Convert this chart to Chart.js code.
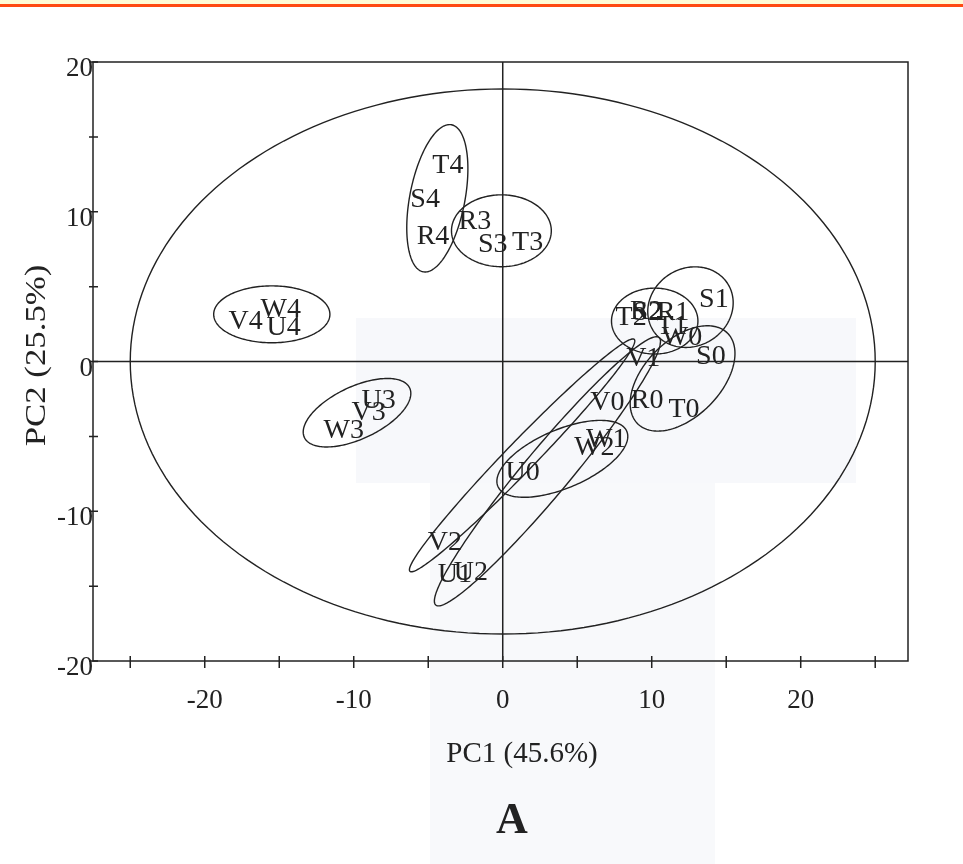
<!DOCTYPE html>
<html lang="en">
<head>
<meta charset="UTF-8">
<title>PCA score plot</title>
<script src="https://cdn.jsdelivr.net/npm/chart.js"></script>
<style>
  html, body { margin: 0; padding: 0; background: #fff; }
  body { width: 963px; height: 864px; overflow: hidden; position: relative; }
  #wrap { position: absolute; left: 0; top: 0; width: 963px; height: 864px; }
  .topband { position: absolute; left: 0; top: 0; width: 963px; height: 4px;
             background: #fffbd6; border-bottom: 3px solid #ff4a12; }
  /* faint scanner tint */
  .tint1 { position: absolute; left: 356px; top: 318px; width: 500px; height: 165px; background: #f7f8fb; }
  .tint2 { position: absolute; left: 430px; top: 483px; width: 285px; height: 381px; background: #f8f9fb; }
</style>
</head>
<body>
<div class="tint1"></div>
<div class="tint2"></div>
<div id="wrap"><canvas id="chart" width="963" height="864"></canvas></div>
<div class="topband"></div>

<script>
// scores
const sampleNames = ['R0','S0','T0','R1','S1','T1','R2','S2','T2','R3','S3','T3','R4','S4','T4',
                     'U0','V0','W0','U1','V1','W1','U2','V2','W2','U3','V3','W3','U4','V4','W4'];
const pc1Scores = [9.69, 13.97, 12.17, 11.43, 14.17, 11.36, 9.63, 9.7, 8.62, -1.87, -0.67, 1.67, -4.68, -5.21, -3.68,
                   1.34, 7.02, 12.03, -3.21, 9.43, 6.95, -2.14, -3.88, 6.15, -8.33, -9.0, -10.67, -14.7, -17.25, -14.9];
const pc2Scores = [-2.6, 0.33, -3.2, 3.27, 4.13, 2.33, 3.33, 3.25, 2.93, 9.33, 7.8, 7.93, 8.33, 10.8, 13.1,
                   -7.4, -2.73, 1.6, -14.2, 0.2, -5.2, -14.07, -12.07, -5.73, -2.64, -3.42, -4.64, 2.25, 2.69, 3.47];

// group ellipses: centre, semi axes (score units), rotation (deg)
const ellipseCx    = [0, -4.39, -0.09, -15.5, -9.78, 12.6, 10.2, 12.07, 4.0, 1.3, 3.0];
const ellipseCy    = [0, 10.9, 8.73, 3.15, -3.42, 3.63, 2.7, -1.13, -6.5, -6.27, -7.33];
const ellipseA     = [25, 5.0, 3.35, 3.9, 3.9, 2.95, 2.9, 4.27, 4.7, 10.8, 11.66];
const ellipseB     = [18.2, 1.85, 2.4, 1.9, 1.75, 2.6, 2.2, 2.55, 1.95, 1.0, 1.55];
const ellipseAngle = [0, 79, 0, 0, 25, 30, 0, 45, 23, 45.8, 50];

const xTickLabels = [-20, -10, 0, 10, 20];
const yTickLabels = [20, 10, 0, -10, -20];
const xTickMarks = [-25, -20, -15, -10, -5, 0, 5, 10, 15, 20, 25];
const yTickMarks = [-20, -15, -10, -5, 0, 5, 10, 15, 20];

const xTitle = 'PC1 (45.6%)';
const yTitle = 'PC2 (25.5%)';
const panelLetter = 'A';

const serif = '"Liberation Serif", "Times New Roman", serif';
const ink = '#222222';

const decor = {
  id: 'decor',
  afterDatasetsDraw(chart) {
    const { ctx, chartArea: area, scales: { x, y } } = chart;
    ctx.save();
    ctx.strokeStyle = ink;
    ctx.lineWidth = 1.5;

    // frame
    ctx.strokeRect(area.left, area.top, area.right - area.left, area.bottom - area.top);

    // zero lines
    const x0 = x.getPixelForValue(0), y0 = y.getPixelForValue(0);
    ctx.beginPath();
    ctx.moveTo(x0, area.top); ctx.lineTo(x0, area.bottom);
    ctx.moveTo(area.left, y0); ctx.lineTo(area.right, y0);
    ctx.stroke();

    // tick marks crossing the axes
    ctx.beginPath();
    xTickMarks.forEach(v => {
      const px = x.getPixelForValue(v);
      ctx.moveTo(px, area.bottom - 5); ctx.lineTo(px, area.bottom + 7);
    });
    yTickMarks.forEach(v => {
      const py = y.getPixelForValue(v);
      ctx.moveTo(area.left - 4, py); ctx.lineTo(area.left + 5, py);
    });
    ctx.stroke();

    // ellipses
    ctx.lineWidth = 1.4;
    for (let i = 0; i < ellipseCx.length; i++) {
      const th = ellipseAngle[i] * Math.PI / 180;
      const c = Math.cos(th), s = Math.sin(th);
      ctx.beginPath();
      for (let k = 0; k <= 200; k++) {
        const t = k / 200 * Math.PI * 2;
        const ex = ellipseA[i] * Math.cos(t), ey = ellipseB[i] * Math.sin(t);
        const px = x.getPixelForValue(ellipseCx[i] + ex * c - ey * s);
        const py = y.getPixelForValue(ellipseCy[i] + ex * s + ey * c);
        if (k === 0) ctx.moveTo(px, py); else ctx.lineTo(px, py);
      }
      ctx.closePath();
      ctx.stroke();
    }

    // sample labels at the score positions
    const meta = chart.getDatasetMeta(0);
    ctx.fillStyle = ink;
    ctx.font = '28px ' + serif;
    ctx.textAlign = 'center';
    ctx.textBaseline = 'middle';
    meta.data.forEach((pt, i) => ctx.fillText(sampleNames[i], pt.x, pt.y));

    // axis titles and panel letter
    ctx.font = '29px ' + serif;
    ctx.fillText(xTitle, 522, 754);
    ctx.save();
    ctx.translate(37, (area.top + area.bottom) / 2 - 6);
    ctx.rotate(-Math.PI / 2);
    ctx.scale(1.2, 1);   // the scanned y title is stretched along its length
    ctx.font = '29px ' + serif;
    ctx.fillText(yTitle, 0, 0);
    ctx.restore();
    ctx.font = 'bold 44px ' + serif;
    ctx.fillText(panelLetter, 512, 822);
    ctx.restore();
  }
};

new Chart(document.getElementById('chart'), {
  type: 'scatter',
  data: {
    datasets: [{
      label: 'scores',
      data: sampleNames.map((n, i) => ({ x: pc1Scores[i], y: pc2Scores[i] })),
      pointRadius: 0,
      pointHoverRadius: 0
    }]
  },
  options: {
    responsive: false,
    animation: false,
    devicePixelRatio: 1,
    layout: { padding: { left: 0, top: 62, right: 55, bottom: 0 } },
    plugins: { legend: { display: false }, tooltip: { enabled: false } },
    scales: {
      x: {
        type: 'linear',
        min: -27.5, max: 27.2,
        grid: { display: false, drawTicks: false },
        border: { display: false },
        afterBuildTicks: axis => { axis.ticks = xTickLabels.map(v => ({ value: v })); },
        afterFit: axis => { axis.height = 203; },
        ticks: { color: ink, padding: 24, font: { family: serif, size: 27 } }
      },
      y: {
        type: 'linear',
        min: -20, max: 20,
        grid: { display: false, drawTicks: false },
        border: { display: false },
        afterBuildTicks: axis => { axis.ticks = yTickLabels.map(v => ({ value: v })); },
        afterFit: axis => { axis.width = 93; },
        ticks: { color: ink, padding: 0, labelOffset: 7, font: { family: serif, size: 27 } }
      }
    }
  },
  plugins: [decor]
});
</script>
</body>
</html>
